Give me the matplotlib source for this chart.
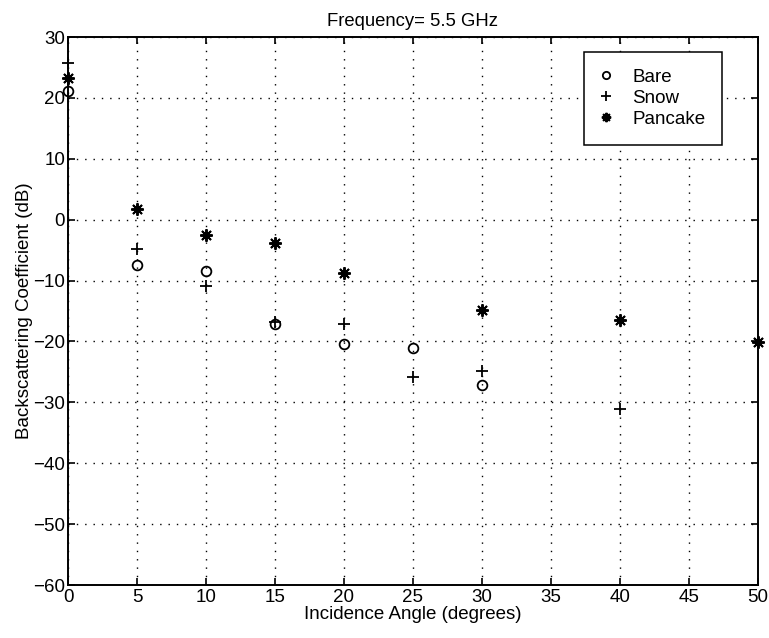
import matplotlib.pyplot as plt

plt.rcParams['font.family'] = ['Liberation Sans', 'DejaVu Sans']

bare_x = [0, 5, 10, 15, 20, 25, 30]
bare_y = [21.2, -7.4, -8.5, -17.2, -20.4, -21.0, -27.1]

snow_x = [0, 5, 10, 15, 20, 25, 30, 40]
snow_y = [25.7, -4.8, -10.9, -16.8, -17.2, -25.9, -24.9, -31.1]

pancake_x = [0, 5, 10, 15, 20, 30, 40, 50]
pancake_y = [23.2, 1.7, -2.5, -3.9, -8.7, -14.9, -16.4, -20.1]

fig = plt.figure(figsize=(7.69, 6.38), dpi=100)
ax = fig.add_axes([68 / 769, 1 - 585 / 638, 690 / 769, 548 / 638])

ax.plot(bare_x, bare_y, linestyle='none', marker='o', markersize=7,
        markerfacecolor='none', markeredgecolor='black', markeredgewidth=1.3,
        label='Bare', clip_on=False)
ax.plot(snow_x, snow_y, linestyle='none', marker='+', markersize=9,
        color='black', markeredgewidth=1.3, label='Snow', clip_on=False)
ax.plot(pancake_x, pancake_y, linestyle='none', marker=(8, 2, 0), markersize=9,
        color='black', markeredgewidth=1.4, label='Pancake', clip_on=False)

ax.set_xlim(0, 50)
ax.set_ylim(-60, 30)
ax.set_xticks(range(0, 51, 5))
ax.set_yticks(range(-60, 31, 10))
ax.grid(True, linestyle=(0, (1, 5)), color='black', linewidth=1.0)
ax.tick_params(direction='in', top=True, right=True, labelsize=13.5, length=5,
               width=1.2)
ax.tick_params(axis='x', pad=3)
ax.tick_params(axis='y', pad=2)
for s in ax.spines.values():
    s.set_linewidth(1.4)

ax.set_xlabel("Incidence Angle (degrees)", fontsize=13.5, labelpad=0)
ax.set_ylabel("Backscattering Coefficient (dB)", fontsize=13.5, labelpad=0)
ax.set_title("Frequency= 5.5 GHz", fontsize=13.3, pad=8)

leg = ax.legend(loc='upper right', bbox_to_anchor=(0.948, 0.9726), fontsize=13.5,
                fancybox=False, edgecolor='black', framealpha=1,
                handletextpad=1.15, borderpad=0.9, labelspacing=0.2,
                handlelength=0.5, borderaxespad=0, markerscale=0.75)
leg.get_frame().set_linewidth(1.1)

fig.savefig("out.png", dpi=100)
